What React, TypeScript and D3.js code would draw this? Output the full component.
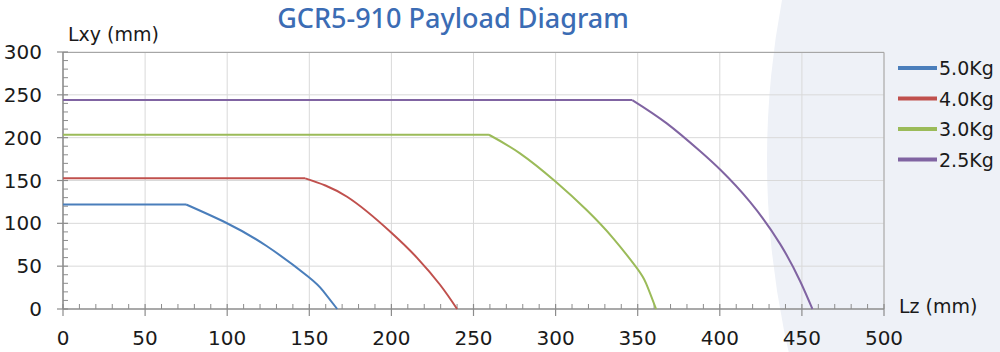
import React, { useRef, useEffect } from 'react';
import * as d3 from 'd3';

// series labels and colours
const loadLabels = ['5.0Kg', '4.0Kg', '3.0Kg', '2.5Kg'];
const loadColors = ['#4a7ebb', '#c0504d', '#9bbb59', '#8064a2'];

// Lz (mm) / Lxy (mm)
const lz50 = [0, 75, 99.3, 124, 149.4, 158.5, 167];
const lxy50 = [122, 122, 100.7, 73.5, 37.7, 21, 0];
const lz40 = [0, 147.5, 173, 200, 215.5, 229.5, 240];
const lxy40 = [152.5, 152.5, 131, 89, 60, 28.6, 0];
const lz30 = [0, 259.4, 278.3, 300.1, 318.9, 335.1, 349.4, 355.1, 361.2];
const lxy30 = [203.4, 203.4, 181.7, 148.5, 115.5, 82.5, 48, 30, 0];
const lz25 = [0, 346.7, 367.7, 387.9, 400.5, 418.4, 436.7, 448.8, 456.4];
const lxy25 = [243.9, 243.9, 216.7, 184.4, 162.2, 125, 76, 33, 0];

const xTicks = [0, 50, 100, 150, 200, 250, 300, 350, 400, 450, 500];
const yTicks = [0, 50, 100, 150, 200, 250, 300];

const seriesX = [lz50, lz40, lz30, lz25];
const seriesY = [lxy50, lxy40, lxy30, lxy25];

const W = 1000;
const H = 352;

const App = () => {
  const ref = useRef<SVGSVGElement>(null);

  useEffect(() => {
    document.body.style.margin = '0';
    const svg = d3.select(ref.current);
    svg.selectAll('*').remove();

    const margin = { top: 52, right: 116, bottom: 43, left: 63 };
    const innerW = W - margin.left - margin.right;
    const innerH = H - margin.top - margin.bottom;

    const x = d3.scaleLinear().domain([0, 500]).range([0, innerW]);
    const y = d3.scaleLinear().domain([0, 300]).range([innerH, 0]);

    const font = '"DejaVu Sans", sans-serif';

    // pale backdrop circle on the right
    svg.append('circle')
      .attr('cx', 1628).attr('cy', 160).attr('r', 861)
      .attr('fill', '#eef1f7');

    // title
    svg.append('text')
      .attr('x', 453).attr('y', 28)
      .attr('text-anchor', 'middle')
      .attr('font-family', '"Noto Sans", sans-serif')
      .attr('font-weight', 500)
      .attr('font-size', 27)
      .attr('fill', '#3b6cb4')
      .text('GCR5-910 Payload Diagram');

    const chart = svg.append('g')
      .attr('transform', `translate(${margin.left}, ${margin.top})`);

    // grid
    chart.selectAll('line.vgrid')
      .data(xTicks.slice(1))
      .join('line')
      .attr('x1', d => x(d)).attr('x2', d => x(d))
      .attr('y1', 0).attr('y2', innerH)
      .attr('stroke', '#d9d9d9').attr('stroke-width', 1);
    chart.selectAll('line.hgrid')
      .data(yTicks.slice(1))
      .join('line')
      .attr('x1', 0).attr('x2', innerW)
      .attr('y1', d => y(d)).attr('y2', d => y(d))
      .attr('stroke', '#d9d9d9').attr('stroke-width', 1);

    // frame top/right
    chart.append('path')
      .attr('d', `M0,0.5H${innerW}V${innerH}`)
      .attr('fill', 'none').attr('stroke', '#a6a6a6').attr('stroke-width', 1);

    // minor ticks
    const minorX = d3.range(10, 500, 10).filter(v => v % 50 !== 0);
    const minorY = d3.range(10, 300, 10).filter(v => v % 50 !== 0);
    chart.selectAll('line.mx')
      .data(minorX)
      .join('line')
      .attr('x1', d => x(d)).attr('x2', d => x(d))
      .attr('y1', innerH - 5).attr('y2', innerH)
      .attr('stroke', '#8c8c8c').attr('stroke-width', 1);
    chart.selectAll('line.my')
      .data(minorY)
      .join('line')
      .attr('x1', 0).attr('x2', 5)
      .attr('y1', d => y(d)).attr('y2', d => y(d))
      .attr('stroke', '#8c8c8c').attr('stroke-width', 1);

    // major ticks
    chart.selectAll('line.tx')
      .data(xTicks)
      .join('line')
      .attr('x1', d => x(d)).attr('x2', d => x(d))
      .attr('y1', innerH - 5).attr('y2', innerH + 7)
      .attr('stroke', '#8c8c8c').attr('stroke-width', 1.2);
    chart.selectAll('line.ty')
      .data(yTicks)
      .join('line')
      .attr('x1', -6).attr('x2', 5)
      .attr('y1', d => y(d)).attr('y2', d => y(d))
      .attr('stroke', '#8c8c8c').attr('stroke-width', 1.2);

    // axes
    chart.append('line')
      .attr('x1', 0).attr('x2', innerW).attr('y1', innerH).attr('y2', innerH)
      .attr('stroke', '#8c8c8c').attr('stroke-width', 1.6);
    chart.append('line')
      .attr('x1', 0).attr('x2', 0).attr('y1', 0).attr('y2', innerH)
      .attr('stroke', '#8c8c8c').attr('stroke-width', 1.6);

    // tick labels
    chart.selectAll('text.xl')
      .data(xTicks)
      .join('text')
      .attr('x', d => x(d)).attr('y', innerH + 36)
      .attr('text-anchor', 'middle')
      .attr('font-family', font).attr('font-size', 20).attr('fill', '#1a1a1a')
      .text(d => d);
    chart.selectAll('text.yl')
      .data(yTicks)
      .join('text')
      .attr('x', -21).attr('y', d => y(d) + 7)
      .attr('text-anchor', 'end')
      .attr('font-family', font).attr('font-size', 20).attr('fill', '#1a1a1a')
      .text(d => d);

    // axis titles
    svg.append('text')
      .attr('x', 68).attr('y', 41)
      .attr('font-family', font).attr('font-size', 19).attr('fill', '#1a1a1a')
      .text('Lxy (mm)');
    svg.append('text')
      .attr('x', 899).attr('y', 313)
      .attr('font-family', font).attr('font-size', 19).attr('fill', '#1a1a1a')
      .text('Lz (mm)');

    // series: flat part + curved falloff (natural spline, straight start at the knee)
    const flat = d3.line<number[]>().x(d => x(d[0])).y(d => y(d[1]));
    const curve = d3.line<number[]>()
      .x(d => x(d[0])).y(d => y(d[1]))
      .curve(d3.curveNatural);

    seriesX.forEach((xs, i) => {
      const pts = xs.map((v, j) => [v, seriesY[i][j]]);
      chart.append('path')
        .attr('d', flat(pts.slice(0, 2)))
        .attr('fill', 'none').attr('stroke', loadColors[i]).attr('stroke-width', 2);
      chart.append('path')
        .attr('d', curve(pts.slice(1)))
        .attr('fill', 'none').attr('stroke', loadColors[i]).attr('stroke-width', 2);
    });

    // legend
    const legend = svg.append('g').attr('transform', 'translate(898, 68)');
    loadLabels.forEach((lab, i) => {
      const row = legend.append('g').attr('transform', `translate(0, ${i * 30.5})`);
      row.append('line')
        .attr('x1', 0).attr('x2', 39).attr('y1', 0).attr('y2', 0)
        .attr('stroke', loadColors[i]).attr('stroke-width', 4);
      row.append('text')
        .attr('x', 41).attr('y', 7)
        .attr('font-family', font).attr('font-size', 19).attr('fill', '#1a1a1a')
        .text(lab);
    });
  }, []);

  return (
    <svg ref={ref} width={W} height={H}
      style={{ position: 'absolute', left: 0, top: 0, display: 'block', background: '#fff' }} />
  );
};

export default App;
